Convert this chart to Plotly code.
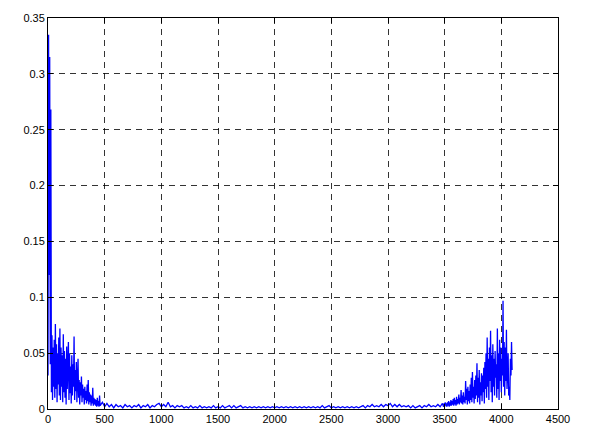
import plotly.graph_objects as go

# Left (low-frequency) segment: bins 0..460, step 5
left_bins = list(range(0, 461, 5))
left_mag = [
    0.030, 0.335, 0.120, 0.315, 0.040, 0.268, 0.015, 0.066, 0.008, 0.055,
    0.020, 0.062, 0.010, 0.076, 0.018, 0.058, 0.006, 0.050, 0.022, 0.064,
    0.012, 0.072, 0.008, 0.055, 0.020, 0.048, 0.006, 0.067, 0.015, 0.052,
    0.010, 0.045, 0.004, 0.056, 0.018, 0.042, 0.060, 0.008, 0.050, 0.014,
    0.038, 0.005, 0.048, 0.012, 0.040, 0.020, 0.065, 0.008, 0.035, 0.016,
    0.042, 0.006, 0.030, 0.045, 0.010, 0.026, 0.004, 0.024, 0.012, 0.029,
    0.006, 0.022, 0.010, 0.018, 0.004, 0.020, 0.008, 0.016, 0.005, 0.022,
    0.007, 0.026, 0.004, 0.015, 0.006, 0.013, 0.003, 0.012, 0.005, 0.019,
    0.003, 0.010, 0.004, 0.009, 0.003, 0.008, 0.002, 0.010, 0.003, 0.007,
    0.002, 0.012, 0.003,
]

# Middle segment: bins 480..3480, step 20
mid_bins = list(range(480, 3481, 20))
mid_mag = [
    0.006, 0.002, 0.005, 0.002, 0.004, 0.001, 0.004, 0.002, 0.003, 0.001,
    0.004, 0.002, 0.003, 0.001, 0.003, 0.002, 0.004, 0.001, 0.003, 0.002,
    0.004, 0.001, 0.003, 0.002, 0.004, 0.005, 0.002, 0.004, 0.002, 0.006,
    0.002, 0.003, 0.001, 0.003, 0.002, 0.003, 0.001, 0.002, 0.001, 0.003,
    0.001, 0.002, 0.001, 0.003, 0.001, 0.002, 0.001, 0.002, 0.001, 0.003,
    0.001, 0.002, 0.001, 0.003, 0.001, 0.002, 0.003, 0.001, 0.003, 0.001,
    0.002, 0.003, 0.001, 0.002, 0.001, 0.002, 0.001, 0.002, 0.001, 0.002,
    0.001, 0.002, 0.001, 0.002, 0.001, 0.002, 0.001, 0.002, 0.001, 0.002,
    0.001, 0.002, 0.001, 0.002, 0.001, 0.002, 0.001, 0.002, 0.001, 0.002,
    0.001, 0.002, 0.001, 0.002, 0.001, 0.002, 0.001, 0.003, 0.001, 0.002,
    0.003, 0.001, 0.002, 0.001, 0.002, 0.001, 0.002, 0.001, 0.002, 0.001,
    0.002, 0.001, 0.002, 0.001, 0.002, 0.003, 0.001, 0.003, 0.002, 0.004,
    0.002, 0.003, 0.002, 0.004, 0.002, 0.004, 0.003, 0.005, 0.002, 0.004,
    0.002, 0.004, 0.002, 0.003, 0.002, 0.003, 0.001, 0.003, 0.001, 0.002,
    0.003, 0.001, 0.003, 0.002, 0.004, 0.002, 0.003, 0.002, 0.004, 0.002,
    0.005,
]

# Right (high-bin) segment: bins 3490..4095, step 5
right_bins = list(range(3490, 4096, 5))
right_mag = [
    0.002, 0.005, 0.002, 0.006, 0.003, 0.005, 0.002, 0.006, 0.003, 0.007,
    0.002, 0.006, 0.003, 0.008, 0.003, 0.007, 0.004, 0.009, 0.003, 0.010,
    0.004, 0.008, 0.003, 0.011, 0.004, 0.009, 0.005, 0.013, 0.004, 0.010,
    0.006, 0.017, 0.005, 0.012, 0.004, 0.015, 0.006, 0.011, 0.005, 0.025,
    0.008, 0.018, 0.004, 0.020, 0.007, 0.016, 0.005, 0.022, 0.008, 0.028,
    0.006, 0.033, 0.010, 0.020, 0.005, 0.026, 0.009, 0.030, 0.012, 0.041,
    0.006, 0.028, 0.010, 0.035, 0.004, 0.024, 0.012, 0.032, 0.007, 0.030,
    0.015, 0.037, 0.005, 0.042, 0.018, 0.050, 0.010, 0.064, 0.020, 0.045,
    0.008, 0.055, 0.025, 0.070, 0.015, 0.048, 0.006, 0.058, 0.020, 0.045,
    0.012, 0.052, 0.028, 0.040, 0.010, 0.072, 0.018, 0.050, 0.008, 0.062,
    0.025, 0.055, 0.015, 0.045, 0.030, 0.097, 0.020, 0.060, 0.012, 0.055,
    0.025, 0.071, 0.018, 0.045, 0.050, 0.012, 0.020, 0.008, 0.045, 0.030,
    0.060, 0.035,
]

bins = left_bins + mid_bins + right_bins
mag = left_mag + mid_mag + right_mag

x_ticks = [0, 500, 1000, 1500, 2000, 2500, 3000, 3500, 4000, 4500]
y_ticks = [0, 0.05, 0.1, 0.15, 0.2, 0.25, 0.3, 0.35]
y_tick_text = ["0", "0.05", "0.1", "0.15", "0.2", "0.25", "0.3", "0.35"]

fig = go.Figure()
fig.add_trace(go.Scatter(
    x=bins, y=mag, mode="lines",
    line=dict(color="#0000FF", width=1.3),
    showlegend=False, hoverinfo="skip",
))

axis_common = dict(
    showline=True, linecolor="black", linewidth=1, mirror="ticks",
    ticks="inside", ticklen=5, tickcolor="black",
    showgrid=True, gridcolor="rgba(0,0,0,0.8)", gridwidth=1, griddash="6px,5px",
    zeroline=False,
    tickfont=dict(family="Liberation Sans, Arial, sans-serif", size=11, color="black"),
)

fig.update_xaxes(range=[0, 4500], tickvals=x_ticks, ticktext=[str(v) for v in x_ticks], **axis_common)
fig.update_yaxes(range=[0, 0.35], tickvals=y_ticks, ticktext=y_tick_text, **axis_common)

fig.update_layout(
    width=589, height=437,
    margin=dict(l=48, r=31, t=14, b=22),
    paper_bgcolor="white", plot_bgcolor="white",
)

fig.write_html("out.html")
